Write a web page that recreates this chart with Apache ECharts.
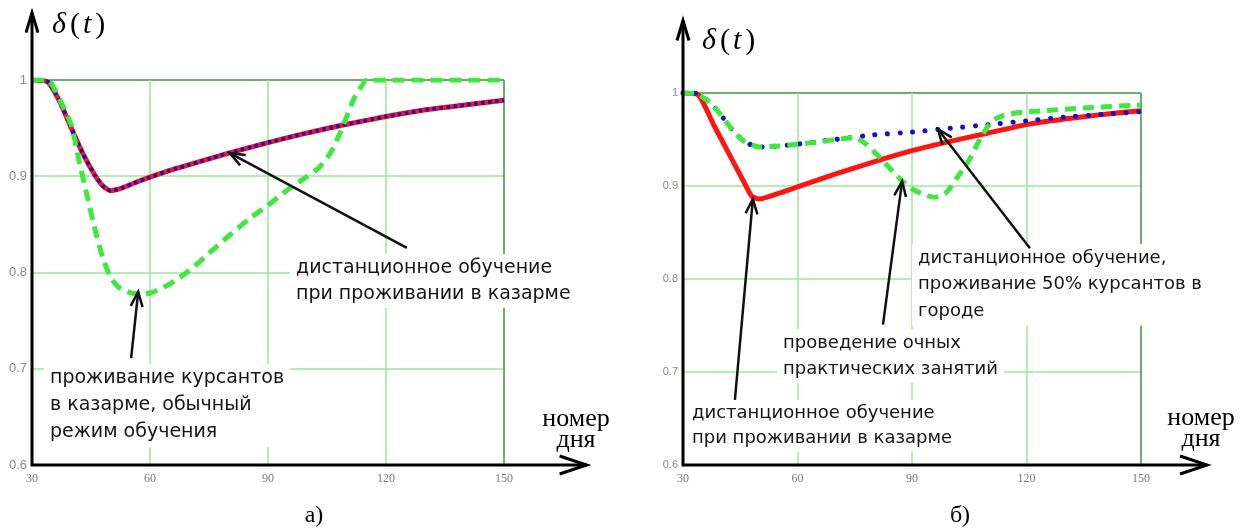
<!DOCTYPE html>
<html>
<head>
<meta charset="utf-8">
<script src="https://cdn.jsdelivr.net/npm/echarts@6/dist/echarts.min.js"></script>
<style>
  html, body { margin: 0; padding: 0; background: #fff; }
  #chart { width: 1244px; height: 530px; }
</style>
</head>
<body>
<div id="chart"></div>
<script>
// Axis ticks shared by both panels
const dayTicks = [30, 60, 90, 120, 150];
const deltaTicks = [0.6, 0.7, 0.8, 0.9, 1];

// Panel а: distance learning while living in barracks
const daysA_remote = [30, 34, 37, 40, 43, 46, 48, 50, 53, 56, 60, 65, 70, 80, 90, 100, 110, 120, 130, 140, 150];
const deltaA_remote = [1, 0.998, 0.978, 0.95, 0.923, 0.901, 0.890, 0.885, 0.888, 0.893, 0.899, 0.906, 0.912, 0.924, 0.935, 0.945, 0.954, 0.962, 0.969, 0.974, 0.979];

// Panel а: living in barracks, usual training mode
const daysA_usual = [30, 34, 37, 40, 42, 44, 46, 48, 50, 52, 55, 58, 61, 65, 70, 75, 80, 85, 90, 95, 100, 103, 106, 108, 110, 112, 114, 115, 120, 130, 140, 150];
const deltaA_usual = [1, 1, 0.98, 0.953, 0.915, 0.88, 0.845, 0.815, 0.795, 0.785, 0.779, 0.777, 0.78, 0.788, 0.802, 0.82, 0.838, 0.855, 0.87, 0.886, 0.9, 0.909, 0.925, 0.942, 0.962, 0.982, 0.995, 1, 1, 1, 1, 1];

// Panel б: distance learning while living in barracks
const daysB_remote = [30, 34, 38, 42, 46, 48, 50, 55, 60, 70, 80, 90, 100, 110, 120, 130, 140, 150];
const deltaB_remote = [1, 0.998, 0.966, 0.935, 0.904, 0.889, 0.886, 0.892, 0.899, 0.913, 0.926, 0.938, 0.948, 0.957, 0.966, 0.972, 0.977, 0.981];

// Panel б: distance learning, 50% of cadets living in the city
const daysB_city = [30, 33, 37, 40, 43, 46, 48, 50, 55, 60, 70, 80, 90, 100, 110, 120, 130, 140, 150];
const deltaB_city = [1, 1, 0.99, 0.976, 0.96, 0.948, 0.944, 0.942, 0.943, 0.945, 0.95, 0.955, 0.958, 0.962, 0.966, 0.97, 0.974, 0.977, 0.98];

// Panel б: in-person practical classes
const daysB_practice = [30, 33, 37, 40, 43, 46, 50, 55, 60, 65, 70, 75, 78, 81, 84, 87, 90, 93, 96, 99, 102, 105, 108, 111, 114, 118, 125, 135, 150];
const deltaB_practice = [1, 1, 0.99, 0.976, 0.96, 0.948, 0.942, 0.943, 0.945, 0.947, 0.95, 0.952, 0.945, 0.933, 0.92, 0.907, 0.897, 0.891, 0.888, 0.893, 0.91, 0.928, 0.952, 0.97, 0.976, 0.979, 0.981, 0.984, 0.987];

const pairs = (d, v) => d.map((x, i) => [x, v[i]]);

const RED = '#ff1414';
const BLUE = '#1212c8';
const GREEN = '#3ee83e';
const GRID_LIGHT = '#9be89b';
const GRID_FRAME = '#3f903f';

const chart = echarts.init(document.getElementById('chart'), null, { renderer: 'canvas' });

function xAxisFor(gridIndex, fontSize) {
  return {
    gridIndex, type: 'value',
    min: dayTicks[0], max: dayTicks[dayTicks.length - 1], interval: dayTicks[1] - dayTicks[0],
    axisLine: { show: false }, axisTick: { show: false },
    axisLabel: { margin: 8, color: '#7a7a7a', fontFamily: 'Liberation Serif', fontSize },
    splitLine: { show: true, lineStyle: { color: [GRID_LIGHT, GRID_LIGHT, GRID_LIGHT, GRID_LIGHT, GRID_FRAME], width: 1.5 } }
  };
}
function yAxisFor(gridIndex, fontSize) {
  return {
    gridIndex, type: 'value',
    min: deltaTicks[0], max: deltaTicks[deltaTicks.length - 1], interval: 0.1,
    axisLine: { show: false }, axisTick: { show: false },
    axisLabel: { margin: 5, color: '#8a8a8a', fontFamily: 'Liberation Sans', fontSize,
      formatter: v => (Math.abs(v - 1) < 1e-9 ? '1' : v.toFixed(1)) },
    splitLine: { show: true, lineStyle: { color: [GRID_LIGHT, GRID_LIGHT, GRID_LIGHT, GRID_LIGHT, GRID_FRAME], width: 1.5 } }
  };
}
function lineSeries(idx, days, vals, style, z) {
  return {
    type: 'line', xAxisIndex: idx, yAxisIndex: idx,
    data: pairs(days, vals), showSymbol: false, smooth: 0.2,
    lineStyle: style, z, silent: true
  };
}

chart.setOption({
  animation: false,
  backgroundColor: '#fff',
  grid: [
    { left: 32, right: 740, top: 80, bottom: 65, containLabel: false, outerBoundsMode: 'none' },
    { left: 683, right: 103, top: 93, bottom: 65, containLabel: false, outerBoundsMode: 'none' }
  ],
  xAxis: [xAxisFor(0, 12), xAxisFor(1, 12)],
  yAxis: [yAxisFor(0, 13), yAxisFor(1, 11)],
  series: [
    lineSeries(0, daysA_remote, deltaA_remote, { color: RED, width: 5 }, 3),
    lineSeries(0, daysA_remote, deltaA_remote, { color: BLUE, width: 4, type: [3.5, 3.5] }, 4),
    lineSeries(0, daysA_usual, deltaA_usual, { color: GREEN, width: 5, type: [12, 7] }, 5),
    lineSeries(1, daysB_remote, deltaB_remote, { color: RED, width: 5 }, 3),
    lineSeries(1, daysB_city, deltaB_city, { color: BLUE, width: 5, type: [0.1, 12.5], cap: 'round' }, 4),
    lineSeries(1, daysB_practice, deltaB_practice, { color: GREEN, width: 5, type: [11, 7] }, 5)
  ]
});

// Axes with arrowheads and annotation arrows, placed through the axis scales
const px = (g, p) => chart.convertToPixel({ xAxisIndex: g, yAxisIndex: g }, p);

function chevron(tip, from, len, ang) {
  const a = Math.atan2(from[1] - tip[1], from[0] - tip[0]);
  return [
    [tip[0] + len * Math.cos(a + ang), tip[1] + len * Math.sin(a + ang)],
    tip,
    [tip[0] + len * Math.cos(a - ang), tip[1] + len * Math.sin(a - ang)]
  ];
}
function poly(points, width, color) {
  return { type: 'polyline', z: 60, silent: true, shape: { points },
    style: { stroke: color || '#000', lineWidth: width, fill: 'none', lineJoin: 'miter' } };
}
function axisArrows(g, xEnd, yEnd) {
  const o = px(g, [dayTicks[0], deltaTicks[0]]);
  const yt = px(g, [dayTicks[0], yEnd]);
  const xt = px(g, [xEnd, deltaTicks[0]]);
  return [
    poly([yt, o, xt], 3),
    poly([[yt[0] - 6, yt[1] + 20], yt, [yt[0] + 6, yt[1] + 20]], 3),
    poly([[xt[0] - 27, xt[1] - 9], xt, [xt[0] - 27, xt[1] + 9]], 3)
  ];
}
function pointer(g, from, to) {
  const a = px(g, from), b = px(g, to);
  return [poly([a, b], 2.5, '#111'), poly(chevron(b, a, 16, 0.38), 2.5, '#111')];
}
function note(x, y, text, size, lh) {
  return { type: 'text', z: 50, silent: true, x, y,
    style: { text, font: size + 'px "DejaVu Sans"', fill: '#151515', lineHeight: lh,
      align: 'left', verticalAlign: 'top', backgroundColor: '#fff', padding: [1, 6] } };
}
function serif(x, y, text, size, opts) {
  return { type: 'text', z: 50, silent: true, x, y,
    style: Object.assign({ text, font: size + 'px "Liberation Serif"', fill: '#000',
      align: 'center', verticalAlign: 'middle' }, opts || {}) };
}
function deltaTitle(x, y) {
  return { type: 'text', z: 50, silent: true, x, y,
    style: {
      text: '{i|δ}{p|(}{i|t}{p|)}', align: 'left', verticalAlign: 'middle',
      rich: {
        i: { font: 'italic 30px "Liberation Serif"', fill: '#000', padding: [0, 2, 0, 1] },
        p: { font: '30px "Liberation Serif"', fill: '#000', padding: [0, 2, 0, 2] }
      }
    } };
}

const graphics = [].concat(
  axisArrows(0, 171, 1.07),
  axisArrows(1, 167.3, 1.078),
  pointer(0, [125.3, 0.8255], [80.3, 0.924]),
  pointer(0, [55.2, 0.711], [57, 0.78]),
  pointer(1, [43.6, 0.670], [48.3, 0.886]),
  pointer(1, [82.4, 0.751], [87.4, 0.905]),
  pointer(1, [120.9, 0.833], [96.8, 0.961]),
  [
    note(290, 254, 'дистанционное обучение\nпри проживании в казарме', 19, 26),
    note(44, 364, 'проживание курсантов\nв казарме, обычный\nрежим обучения', 19, 27),
    note(912, 244, 'дистанционное обучение,\nпроживание 50% курсантов в\nгороде', 18, 26.5),
    note(777, 329, 'проведение очных\nпрактических занятий', 18, 26),
    note(686, 400, 'дистанционное обучение\nпри проживании в казарме', 18, 25),
    deltaTitle(51, 25),
    deltaTitle(701, 41),
    serif(576, 430, 'номер\nдня', 26, { lineHeight: 21 }),
    serif(1201, 429, 'номер\nдня', 26, { lineHeight: 21 }),
    serif(314, 516, 'а)', 24),
    serif(960, 516, 'б)', 24)
  ]
);

chart.setOption({ graphic: graphics });
</script>
</body>
</html>
